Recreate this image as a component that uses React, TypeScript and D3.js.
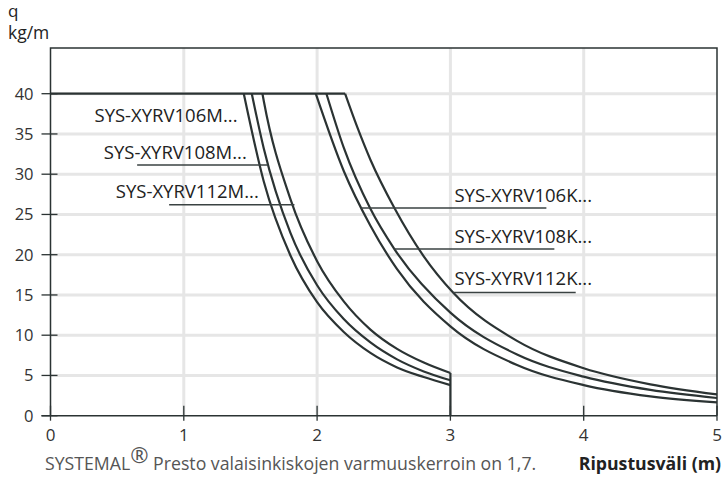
import * as d3 from 'd3'

// span (m) -> allowed load q (kg/m)
const xTicks = [0, 1, 2, 3, 4, 5]
const yTicks = [0, 5, 10, 15, 20, 25, 30, 35, 40]

const mNames = ['SYS-XYRV106M...', 'SYS-XYRV108M...', 'SYS-XYRV112M...']
const kNames = ['SYS-XYRV106K...', 'SYS-XYRV108K...', 'SYS-XYRV112K...']

const m106: [number, number][] = [
	[1.45, 40], [1.6, 29.1], [1.8, 19.9], [2.0, 14.1], [2.2, 10.4], [2.4, 7.8], [2.6, 6.0], [2.8, 4.8], [3.0, 3.8],
]
const m108: [number, number][] = [
	[1.51, 40], [1.6, 33.2], [1.8, 22.7], [2.0, 16.2], [2.2, 12.0], [2.4, 9.1], [2.6, 7.0], [2.8, 5.5], [3.0, 4.4],
]
const m112: [number, number][] = [
	[1.59, 40], [1.6, 39.1], [1.8, 26.9], [2.0, 19.2], [2.2, 14.2], [2.4, 10.7], [2.6, 8.3], [2.8, 6.6], [3.0, 5.3],
]
const k106: [number, number][] = [
	[1.99, 40], [2.2, 30.4], [2.4, 23.6], [2.6, 18.2], [3.0, 11.1], [3.5, 6.3], [4.0, 3.8], [4.5, 2.4], [5.0, 1.65],
]
const k108: [number, number][] = [
	[2.07, 40], [2.2, 33.3], [2.4, 25.7], [2.58, 20.7], [3.0, 12.8], [3.5, 7.6], [4.0, 4.85], [4.5, 3.2], [5.0, 2.2],
]
const k112: [number, number][] = [
	[2.21, 40], [2.3, 35.9], [2.4, 31.8], [2.58, 25.8], [2.8, 19.8], [3.02, 15.3], [3.5, 9.3], [4.0, 5.9], [4.5, 3.9], [5.0, 2.65],
]

// label anchors in chart units: text x, text baseline, leader from/to, leader y
const labelLayout = [
	{ tx: 0.33, ty: 36.5, lx1: null, lx2: null, ly: 0 },
	{ tx: 0.4, ty: 31.9, lx1: 0.65, lx2: 1.63, ly: 31.15 },
	{ tx: 0.49, ty: 27.0, lx1: 0.89, lx2: 1.83, ly: 26.2 },
	{ tx: 3.03, ty: 26.6, lx1: 2.33, lx2: 3.72, ly: 25.8 },
	{ tx: 3.03, ty: 21.4, lx1: 2.58, lx2: 3.78, ly: 20.7 },
	{ tx: 3.03, ty: 16.25, lx1: 3.02, lx2: 3.94, ly: 15.3 },
]

const W = 723
const H = 479
const frameTop = 48
const ink = '#2b3333'
const font = '"Open Sans", "Noto Sans", sans-serif'

export default function App() {
	const x = d3.scaleLinear().domain([0, 5]).range([50.5, 717])
	const y = d3.scaleLinear().domain([0, 40]).range([415.7, 93.7])

	const curve = d3
		.line<[number, number]>()
		.x((d) => x(d[0]))
		.y((d) => y(d[1]))
		.curve(d3.curveMonotoneX)

	const series = [m106, m108, m112, k106, k108, k112]
	const names = [...mNames, ...kNames]
	const flatEnd = d3.max(series, (s) => s[0][0]) ?? 0
	const mTop = m112[m112.length - 1]

	return (
		<div style={{ position: 'fixed', left: 0, top: 0 }}>
			<svg width={W} height={H} style={{ display: 'block', fontFamily: font }}>
				<rect width={W} height={H} fill='#fff' />

				{/* grid */}
				{xTicks.slice(1, -1).map((t) => (
					<line key={'gx' + t} x1={x(t)} x2={x(t)} y1={frameTop} y2={y(0)} stroke='#e6e6e6' strokeWidth={3} />
				))}
				{yTicks.slice(1).map((t) => (
					<line key={'gy' + t} x1={x(0)} x2={x(5)} y1={y(t)} y2={y(t)} stroke='#e6e6e6' strokeWidth={3} />
				))}

				{/* frame */}
				<path
					d={`M${x(0)},${y(0)}V${frameTop}H${x(5)}V${y(0)}`}
					fill='none'
					stroke={ink}
					strokeWidth={1.5}
				/>

				{/* y ticks */}
				{yTicks.map((t) => (
					<g key={'yt' + t} transform={`translate(0,${y(t)})`}>
						<line x1={x(0) - 9} x2={x(0) + 7} stroke={ink} strokeWidth={1.3} />
						<text x={33.5} dy='0.36em' textAnchor='end' fontSize={16.5} fill='#333'>
							{t}
						</text>
					</g>
				))}

				{/* x ticks */}
				{xTicks.map((t) => (
					<g key={'xt' + t} transform={`translate(${x(t)},0)`}>
						<line y1={y(0) - 10} y2={y(0) + 5} stroke={ink} strokeWidth={1.3} />
						<text y={441} textAnchor='middle' fontSize={17} fill='#333'>
							{t}
						</text>
					</g>
				))}
				<line x1={x(0) - 9} x2={x(5)} y1={y(0)} y2={y(0)} stroke={ink} strokeWidth={1.5} />

				{/* curves */}
				<line x1={x(0)} x2={x(flatEnd)} y1={y(40)} y2={y(40)} stroke={ink} strokeWidth={2.3} />
				{series.map((s, i) => (
					<path key={'s' + i} d={curve(s) ?? ''} fill='none' stroke={ink} strokeWidth={2.2} />
				))}
				<line x1={x(mTop[0])} x2={x(mTop[0])} y1={y(mTop[1])} y2={y(0)} stroke={ink} strokeWidth={2.2} />

				{/* labels */}
				{labelLayout.map((l, i) => (
					<g key={'l' + i}>
						{l.lx1 !== null && l.lx2 !== null && (
							<line x1={x(l.lx1)} x2={x(l.lx2)} y1={y(l.ly)} y2={y(l.ly)} stroke='#3a4242' strokeWidth={1.5} />
						)}
						<text x={x(l.tx)} y={y(l.ty)} fontSize={18.5} fill='#222'>
							{names[i]}
						</text>
					</g>
				))}

				{/* axis titles */}
				<text x={8} y={17} fontSize={17} fill='#222'>
					q
				</text>
				<text x={8} y={39} fontSize={17.5} fill='#222'>
					kg/m
				</text>
				<text x={45} y={470} fontSize={17.7} fill='#555'>
					SYSTEMAL
					<tspan fontSize={22} dy={-7}>
						®
					</tspan>
					<tspan dy={7}> Presto valaisinkiskojen varmuuskerroin on 1,7.</tspan>
				</text>
				<text x={721} y={470} textAnchor='end' fontSize={17.7} fontWeight='bold' fill='#222'>
					Ripustusväli (m)
				</text>
			</svg>
		</div>
	)
}
